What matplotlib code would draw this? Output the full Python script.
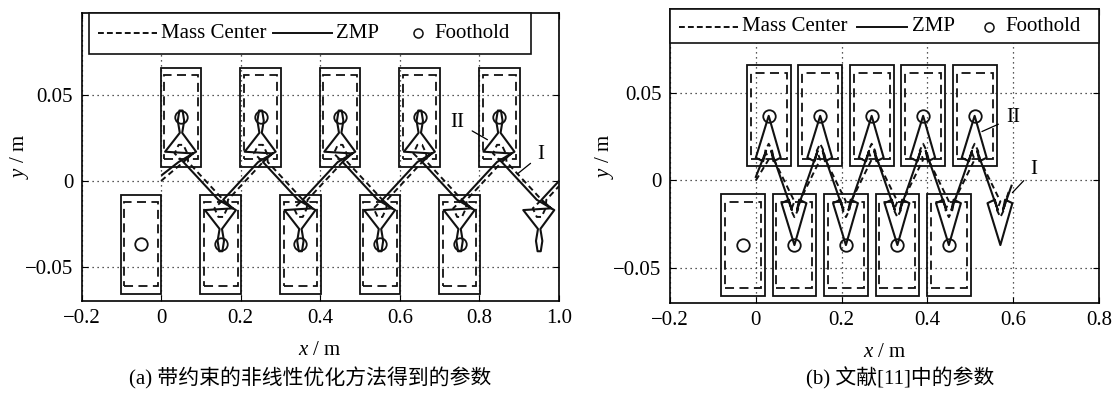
import numpy as np
import matplotlib.pyplot as plt
from matplotlib.patches import Rectangle

plt.rcParams['font.family'] = ['Liberation Serif', 'Noto Sans CJK SC']
plt.rcParams['mathtext.fontset'] = 'custom'
plt.rcParams['mathtext.rm'] = 'Liberation Serif'
plt.rcParams['mathtext.it'] = 'Liberation Serif:italic'
plt.rcParams['axes.unicode_minus'] = True

# ---------------- datos (a) ----------------
a_foot_x = [-0.05, 0.05, 0.15, 0.25, 0.35, 0.45, 0.55, 0.65, 0.75, 0.85, 0.95]
a_foot_y = [-0.037, 0.037, -0.037, 0.037, -0.037, 0.037, -0.037, 0.037, -0.037, 0.037, -0.037]
a_n_rect = 10  # pies con huella dibujada
# forma de la ZMP en cada apoyo (pie de arriba; el de abajo se refleja)
a_zmp_dx = [-0.006, 0.038, 0.003, 0.008, 0.004, -0.004, -0.008, -0.003, -0.040, 0.030, 0.006]
a_zmp_dy = [0.011, 0.017, 0.028, 0.035, 0.041, 0.041, 0.035, 0.028, 0.017, 0.0160, 0.011]
a_com_dx = [0.006, -0.016, -0.006, 0.006, 0.016, 0.018]
a_com_dy = [0.011, 0.016, 0.021, 0.021, 0.016, 0.011]
a_zmp_start = (0.0025, 0.0035)
a_zmp_end = (1.0, 0.0)
a_com_start = (0.0, 0.0)
a_com_end = (1.0, -0.003)

# ---------------- datos (b) ----------------
b_foot_x = [-0.03, 0.03, 0.09, 0.15, 0.21, 0.27, 0.33, 0.39, 0.45, 0.51, 0.57]
b_foot_y = [-0.037, 0.037, -0.037, 0.037, -0.037, 0.037, -0.037, 0.037, -0.037, 0.037, -0.037]
b_n_rect = 10
b_zmp_dx = [-0.006, -0.013, -0.030, 0.0, 0.028, 0.011, 0.006]
b_zmp_dy = [0.017, 0.011, 0.013, 0.037, 0.013, 0.011, 0.017]
b_com_dx = [0.0, -0.008, 0.0, 0.008, 0.012]
b_com_dy = [0.012, 0.017, 0.021, 0.017, 0.012]
b_zmp_start = (0.0, 0.002)
b_zmp_end = (0.596, -0.003)
b_com_start = (0.0, 0.0)
b_com_end = (0.59, -0.006)

# huella: semiancho / semialto (exterior y zona admisible)
foot_w, foot_h = 0.051, 0.029
safe_w, safe_h = 0.042, 0.0245


def trayectoria(fx_list, fy_list, dx, dy, start, end):
    px, py = [start[0]], [start[1]]
    for fx, fy in zip(fx_list, fy_list):
        s = np.sign(fy)
        for ddx, ddy in zip(dx, dy):
            px.append(fx + ddx)
            py.append(s * ddy)
    px.append(end[0])
    py.append(end[1])
    return np.array(px), np.array(py)


def panel(ax, fx, fy, n_rect, zdx, zdy, cdx, cdy, zs, ze, cs, ce, xlim, xticks):
    for x, y in zip(fx[:n_rect], fy[:n_rect]):
        ax.add_patch(Rectangle((x - foot_w, y - foot_h), 2 * foot_w, 2 * foot_h,
                               fill=False, ec='#111111', lw=1.3, zorder=3))
        ax.add_patch(Rectangle((x - safe_w, y - safe_h), 2 * safe_w, 2 * safe_h,
                               fill=False, ec='#111111', lw=1.3, ls=(0, (5, 3)), zorder=3))
    zx, zy = trayectoria(fx[1:], fy[1:], zdx, zdy, zs, ze)
    cx, cy = trayectoria(fx[1:], fy[1:], cdx, cdy, cs, ce)
    ax.plot(cx, cy, color='#111111', lw=1.4, ls=(0, (3, 2)), zorder=4)
    ax.plot(zx, zy, color='#111111', lw=1.5, zorder=5)
    ax.plot(fx[:n_rect], fy[:n_rect], 'o', mfc='none', mec='#111111', ms=9, mew=1.3, zorder=6)

    ax.set_xlim(xlim)
    ax.set_ylim(-0.07, 0.098)
    ax.set_xticks(xticks)
    ax.set_xticklabels([('%.1f' % t).replace('-', '\u2212') if abs(t) > 1e-9 else '0'
                        for t in xticks])
    ax.set_yticks([-0.05, 0, 0.05])
    ax.set_yticklabels(['\u22120.05', '0', '0.05'])
    ax.set_axisbelow(True)
    ax.grid(True, ls=(0, (1, 3)), color='#222222', lw=0.9)
    ax.tick_params(direction='in', length=4, top=True, right=True, labelsize=15, pad=6)
    for sp in ax.spines.values():
        sp.set_linewidth(1.2)
    ax.set_xlabel(r'$x$ / m', fontsize=15, labelpad=9)
    ax.set_ylabel(r'$y$ / m', fontsize=15)


def leyenda(ax, box, ly, dash, solid, circ, tx):
    ax.add_patch(Rectangle((box[0], box[2]), box[1] - box[0], box[3] - box[2],
                           transform=ax.transAxes, fc='white', ec='#111111', lw=1.2,
                           zorder=10, clip_on=False))
    ax.plot(dash, [ly, ly], transform=ax.transAxes, color='#111111', lw=1.4,
            ls=(0, (3, 1.6)), zorder=11, clip_on=False)
    ax.plot(solid, [ly, ly], transform=ax.transAxes, color='#111111', lw=1.4,
            zorder=11, clip_on=False)
    ax.plot([circ], [ly], 'o', transform=ax.transAxes, mfc='none', mec='#111111',
            ms=6.5, mew=1.1, zorder=11, clip_on=False)
    for t, x in zip(['Mass Center', 'ZMP', 'Foothold'], tx):
        ax.text(x, ly, t, transform=ax.transAxes, fontsize=15, ha='left', va='center',
                zorder=12)


fig = plt.figure(figsize=(11.15, 3.94), dpi=100)
ax1 = fig.add_axes([0.0731, 0.2360, 0.4283, 0.7317])
ax2 = fig.add_axes([0.6009, 0.2317, 0.3848, 0.7447])

panel(ax1, a_foot_x, a_foot_y, a_n_rect, a_zmp_dx, a_zmp_dy, a_com_dx, a_com_dy,
      a_zmp_start, a_zmp_end, a_com_start, a_com_end, (-0.2, 1.0),
      [-0.2, 0, 0.2, 0.4, 0.6, 0.8, 1.0])
panel(ax2, b_foot_x, b_foot_y, b_n_rect, b_zmp_dx, b_zmp_dy, b_com_dx, b_com_dy,
      b_zmp_start, b_zmp_end, b_com_start, b_com_end, (-0.2, 0.8),
      [-0.2, 0, 0.2, 0.4, 0.6, 0.8])
ax1.yaxis.set_label_coords(-0.105, 0.5)
ax2.yaxis.set_label_coords(-0.126, 0.5)

leyenda(ax1, (0.0149, 0.9414, 0.857, 0.998), 0.928, [0.0346, 0.158], [0.401, 0.525],
        0.705, [0.1665, 0.533, 0.738])
leyenda(ax2, (0.0, 1.0, 0.886, 1.0), 0.941, [0.021, 0.159], [0.436, 0.552],
        0.744, [0.1667, 0.564, 0.781])

# etiquetas I / II
ax1.annotate('II', xy=(0.82, 0.024), xytext=(0.745, 0.034), fontsize=15, ha='center',
             va='center', arrowprops=dict(arrowstyle='-', lw=0.9, shrinkA=4, shrinkB=0), zorder=7)
ax1.annotate('I', xy=(0.895, 0.004), xytext=(0.955, 0.0152), fontsize=15, ha='center',
             va='center', arrowprops=dict(arrowstyle='-', lw=0.9, shrinkA=4, shrinkB=0), zorder=7)
ax2.annotate('II', xy=(0.527, 0.028), xytext=(0.60, 0.036), fontsize=15, ha='center',
             va='center', arrowprops=dict(arrowstyle='-', lw=0.9, shrinkA=4, shrinkB=0), zorder=7)
ax2.annotate('I', xy=(0.598, -0.007), xytext=(0.648, 0.006), fontsize=15, ha='center',
             va='center', arrowprops=dict(arrowstyle='-', lw=0.9, shrinkA=4, shrinkB=0), zorder=7)

fig.text(310 / 1115, 1 - 378 / 394, '(a) 带约束的非线性优化方法得到的参数', fontsize=15,
         ha='center', va='center')
fig.text(900 / 1115, 1 - 378 / 394, '(b) 文献[11]中的参数', fontsize=15,
         ha='center', va='center')

fig.savefig('out.png', dpi=100)
